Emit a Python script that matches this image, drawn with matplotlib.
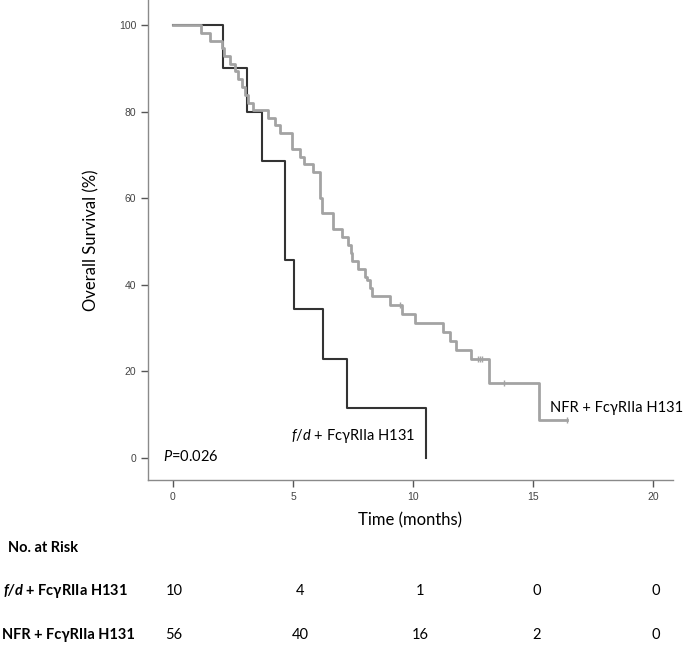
import numpy as np
import matplotlib
matplotlib.use("Agg")
import matplotlib.pyplot as plt
import matplotlib.transforms as mtransforms

plt.rcParams['font.family'] = ['Lato', 'DejaVu Sans']
plt.rcParams['mathtext.fontset'] = 'custom'
plt.rcParams['mathtext.rm'] = 'Lato'
plt.rcParams['mathtext.it'] = 'Lato:italic'
plt.rcParams['mathtext.bf'] = 'Lato:italic:bold'

# f/d + FcgRIIa H131 (n=10): event times and survival after each step
fd_times = [0, 2.10, 3.07, 3.69, 4.67, 5.04, 6.25, 7.25, 10.55]
fd_surv = [100, 90.0, 80.0, 68.6, 45.7, 34.3, 22.9, 11.4, 0.0]

# NFR + FcgRIIa H131 (n=56)
nfr_times = [0, 1.17, 1.54, 2.03, 2.14, 2.37, 2.58, 2.71, 2.86, 3.00, 3.13, 3.33,
             3.96, 4.25, 4.46, 4.95, 5.30, 5.45, 5.85, 6.13, 6.20, 6.65, 7.05,
             7.30, 7.42, 7.46, 7.72, 7.98, 8.07, 8.20, 8.28, 9.04, 9.53, 10.08,
             11.22, 11.55, 11.78, 12.42, 13.17, 15.25, 16.40]
nfr_surv = [100, 98.2, 96.4, 94.6, 92.9, 91.1, 89.3, 87.5, 85.7, 83.9, 82.1, 80.4,
            78.6, 76.8, 75.0, 71.4, 69.6, 67.9, 66.1, 60.0, 56.5, 52.8, 51.0,
            49.2, 47.4, 45.5, 43.7, 41.9, 41.0, 39.2, 37.3, 35.4, 33.3, 31.2,
            29.0, 26.9, 24.9, 22.8, 17.4, 8.7, 8.7]
nfr_cens_t = [9.46, 12.70, 12.80, 12.88, 13.80, 16.40]
nfr_cens_s = [35.4, 22.8, 22.8, 22.8, 17.4, 8.7]

# number at risk table
risk_times = [0, 5, 10, 15, 20]
risk_fd = [10, 4, 1, 0, 0]
risk_nfr = [56, 40, 16, 2, 0]

fig = plt.figure(figsize=(6.85, 6.45), dpi=100)
ax = fig.add_axes([0.216, 0.256, 0.766, 0.744])

ax.step(fd_times, fd_surv, where='post', color='#333333', lw=1.5, zorder=2)
ax.step(nfr_times, nfr_surv, where='post', color='#a3a3a3', lw=2.0, zorder=3)
ax.plot(nfr_cens_t, nfr_cens_s, ls='none', marker='|', ms=5, mew=1.0,
        color='#a3a3a3', zorder=4)

ax.set_xlim(-1.04, 20.8)
ax.set_ylim(-5.1, 105.8)
ax.set_xticks([0, 5, 10, 15, 20])
ax.set_yticks([0, 20, 40, 60, 80, 100])
for s in ['top', 'right']:
    ax.spines[s].set_visible(False)
for s in ['left', 'bottom']:
    ax.spines[s].set_color('#8a8a8a')
    ax.spines[s].set_linewidth(1.0)
ax.tick_params(direction='out', length=5, width=1.0, color='#555555',
               labelsize=7.5, labelcolor='#444444')
for lab in ax.get_xticklabels() + ax.get_yticklabels():
    lab.set_fontfamily(['Liberation Sans', 'DejaVu Sans'])

ax.set_ylabel('Overall Survival (%)', fontsize=12, labelpad=14)
ax.set_xlabel('Time (months)', fontsize=12, labelpad=8)

ax.text(-0.4, 0.3, r'$\mathit{P}$=0.026', fontsize=10.5, va='center', ha='left')
ax.text(10.1, 5.0, r'$\mathit{f/d}$ + FcγRIIa H131', fontsize=10.5,
        va='center', ha='right')
ax.text(15.7, 11.5, 'NFR + FcγRIIa H131', fontsize=10.5, va='center', ha='left')

# number at risk table below the axes
trans = mtransforms.blended_transform_factory(ax.transData, fig.transFigure)
fig.text(0.012, 1 - 548 / 645, 'No. at Risk', fontsize=10.5, fontweight='bold',
         va='center', ha='left')
fig.text(0.004, 1 - 591 / 645, r'$\mathbf{f/d}$ + FcγRIIa H131', fontsize=10.5,
         fontweight='bold', va='center', ha='left')
fig.text(0.003, 1 - 635 / 645, 'NFR + FcγRIIa H131', fontsize=10.5,
         fontweight='bold', va='center', ha='left')
offs = [0.05, 0.3, 0.3, 0.15, 0.1]
for t, o, a, b in zip(risk_times, offs, risk_fd, risk_nfr):
    fig.text(t + o, 1 - 591 / 645, str(a), fontsize=10.5, va='center',
             ha='center', transform=trans)
    fig.text(t + o, 1 - 635 / 645, str(b), fontsize=10.5, va='center',
             ha='center', transform=trans)

fig.savefig('out.png', dpi=100)
